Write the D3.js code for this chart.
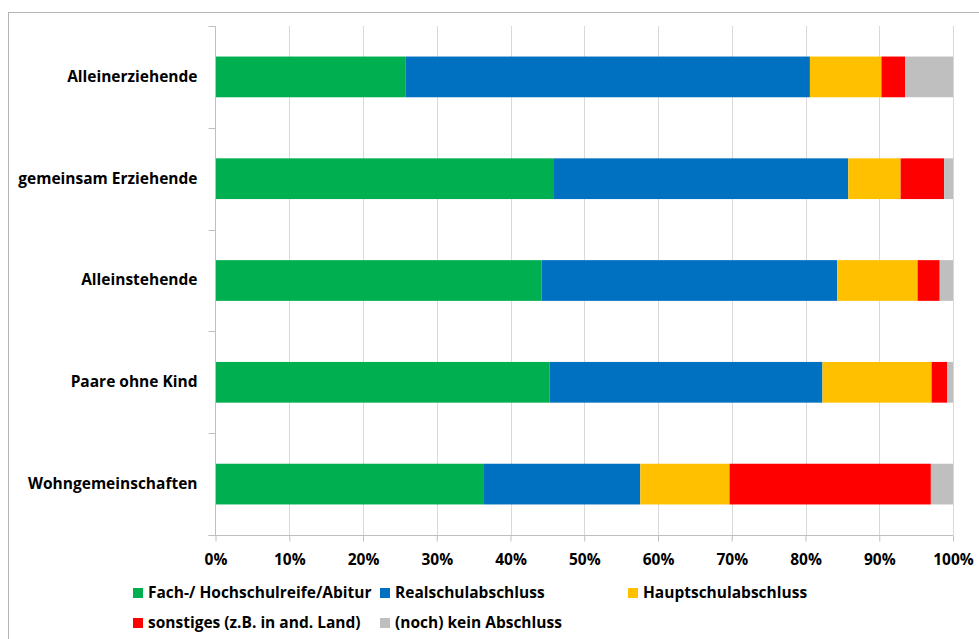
<!DOCTYPE html>
<html>
<head>
<meta charset="utf-8">
<script src="https://cdn.jsdelivr.net/npm/d3@7"></script>
<style>
  html, body { margin: 0; padding: 0; background: #fff; }
  svg { display: block; }
  text { font-family: "Open Sans", Lato, sans-serif; font-weight: bold; fill: #000; }
</style>
</head>
<body>
<svg id="chart" width="979" height="639"></svg>
<script>
const categories = ["Alleinerziehende", "gemeinsam Erziehende", "Alleinstehende", "Paare ohne Kind", "Wohngemeinschaften"];
const seriesNames = ["Fach-/ Hochschulreife/Abitur", "Realschulabschluss", "Hauptschulabschluss", "sonstiges (z.B. in and. Land)", "(noch) kein Abschluss"];
const abitur = [25.8, 45.9, 44.2, 45.3, 36.4];
const realschule = [54.8, 39.9, 40.1, 37.0, 21.2];
const hauptschule = [9.7, 7.1, 10.9, 14.8, 12.1];
const sonstiges = [3.2, 5.9, 3.0, 2.1, 27.3];
const keinAbschluss = [6.5, 1.2, 1.8, 0.8, 3.0];
const xTicks = [0, 0.1, 0.2, 0.3, 0.4, 0.5, 0.6, 0.7, 0.8, 0.9, 1.0];
const colors = ["#00B050", "#0070C0", "#FFC000", "#FF0000", "#BFBFBF"];

const seriesValues = [abitur, realschule, hauptschule, sonstiges, keinAbschluss];
const rows = categories.map((c, i) => {
  const r = { cat: c };
  seriesNames.forEach((s, j) => { r[s] = seriesValues[j][i] / 100; });
  return r;
});

const FONT = "'Open Sans', Lato, sans-serif";
const FS = "15.5px";
const svg = d3.select("#chart");
const plot = { left: 215.5, right: 953, top: 26, bottom: 535 };

const x = d3.scaleLinear().domain([0, 1]).range([plot.left, plot.right]);
const y = d3.scaleBand().domain(categories).range([plot.top, plot.bottom]).paddingInner(0.6).paddingOuter(0.3);
const step = y.step();

// outer frame
svg.append("rect").attr("x", 8.5).attr("y", 12.5).attr("width", 1000).attr("height", 700)
  .attr("fill", "none").attr("stroke", "#b3b3b3").attr("stroke-width", 1);

// gridlines
svg.append("g").selectAll("line").data(xTicks.filter(t => t > 0)).join("line")
  .attr("x1", d => Math.round(x(d)) + 0.5).attr("x2", d => Math.round(x(d)) + 0.5)
  .attr("y1", plot.top).attr("y2", plot.bottom)
  .attr("stroke", "#d9d9d9").attr("stroke-width", 1);

// bars
const stack = d3.stack().keys(seriesNames)(rows);
svg.append("g").selectAll("g").data(stack).join("g")
  .attr("fill", (d, i) => colors[i])
  .selectAll("rect").data(d => d).join("rect")
  .attr("x", d => x(d[0]))
  .attr("width", d => x(d[1]) - x(d[0]))
  .attr("y", d => y(d.data.cat))
  .attr("height", y.bandwidth());

// left axis line and boundary ticks
const yBounds = d3.range(categories.length + 1).map(i => plot.top + i * step);
const gy = svg.append("g");
gy.append("line").attr("x1", plot.left).attr("x2", plot.left).attr("y1", plot.top).attr("y2", plot.bottom)
  .attr("stroke", "#bfbfbf");
gy.selectAll("line.tk").data(yBounds).join("line").attr("class", "tk")
  .attr("x1", plot.left - 7).attr("x2", plot.left)
  .attr("y1", d => Math.round(d) + 0.5).attr("y2", d => Math.round(d) + 0.5)
  .attr("stroke", "#bfbfbf");

// category labels via axis
const yAxis = svg.append("g").attr("transform", `translate(${plot.left - 18},0)`)
  .call(d3.axisLeft(y).tickSize(0).tickPadding(0));
yAxis.select(".domain").remove();
yAxis.selectAll("text").style("font-family", FONT)
  .style("font-weight", "bold").style("font-size", FS).attr("fill", "#000");

// bottom axis
const xAxis = svg.append("g").attr("transform", `translate(0,${plot.bottom + 0.5})`)
  .call(d3.axisBottom(x).tickValues(xTicks).tickFormat(d3.format(".0%")).tickSize(6).tickPadding(12));
xAxis.select(".domain").attr("d", `M${plot.left - 7},0H${plot.right}`).attr("stroke", "#bfbfbf");
xAxis.selectAll(".tick line").attr("stroke", "#bfbfbf");
xAxis.selectAll("text").style("font-family", FONT)
  .style("font-weight", "bold").style("font-size", FS).attr("fill", "#000");

// legend
const legendPos = [[133, 593], [380, 593], [628, 593], [133, 623], [380, 623]];
const lg = svg.append("g").selectAll("g").data(seriesNames).join("g")
  .attr("transform", (d, i) => `translate(${legendPos[i][0]},${legendPos[i][1]})`);
lg.append("rect").attr("x", 0).attr("y", -5).attr("width", 10).attr("height", 10)
  .attr("fill", (d, i) => colors[i]);
lg.append("text").attr("x", 15).attr("dy", "0.35em").style("font-size", FS).text(d => d);
</script>
</body>
</html>
